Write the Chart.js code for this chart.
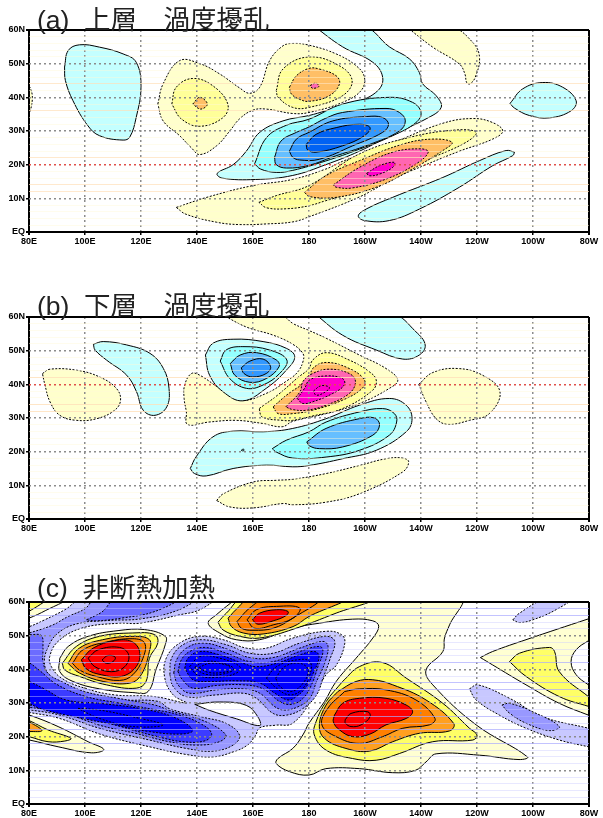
<!DOCTYPE html>
<html lang="ja">
<head>
<meta charset="utf-8">
<script src="https://cdn.jsdelivr.net/npm/chart.js@4"></script>
<style>
body{margin:0;background:#fff;width:603px;height:818px;position:relative;overflow:hidden}
canvas{position:absolute;left:0}
.title{position:absolute;left:37px;font:26.5px/26px "Liberation Sans","Noto Sans CJK JP",sans-serif;color:#222;white-space:pre;z-index:2}
</style>
</head>
<body>
<div class="title" style="top:7px">(a)  上層　渦度擾乱</div>
<div class="title" style="top:293px">(b)  下層　渦度擾乱</div>
<div class="title" style="top:575px">(c)  非断熱加熱</div>
<canvas id="chartA" style="top:0"></canvas>
<canvas id="chartB" style="top:288px"></canvas>
<canvas id="chartC" style="top:578px"></canvas>
<script>
// AXES
const lonLabels=["80E","100E","120E","140E","160E","180","160W","140W","120W","100W","80W"];
const latLabels=["EQ","10N","20N","30N","40N","50N","60N"];
const strongStripesA=[44,36,22,14,12];
const strongStripesB=[42,34,32];
const strongStripesC=[58,56,42,36,34,26,22,18];

// PANEL A (lon,lat)
const aEdge=[[79,43.5],[80,43.5],[81.2,40],[80,35],[79,35]];
const aCyanLeft=[[92.7,49],[94,53.9],[98,55.6],[105.2,54.9],[113.6,52.9],[118.3,50.4],[120,43],[118.3,34.1],[116,28.2],[113.6,27.3],[105.2,28.6],[101,31.6],[95.7,39],[93,45]];
const aYellow1=[[126,38],[127.9,44],[133.8,50.9],[141,50],[148,47],[155.2,42.8],[158.8,41.2],[162.4,43],[166,51],[170.7,55.3],[174.2,56],[180,55.5],[189.7,52.9],[196.8,49.4],[199.8,46],[198.6,42],[192,38.5],[180,35.5],[174.2,35.2],[164.8,36.5],[160,36.2],[155.2,33.6],[151.7,30],[147,25.6],[141,23],[138,25],[133.8,28.6],[127.9,33]];
const aYellow2=[[131,38],[132.6,43],[138.5,45.6],[145.7,43.4],[151,38],[149.3,34],[141,31.4],[134.4,33.6]];
const aOrange1=[[138.5,38],[141,40],[143.7,38],[141.3,36.5]];
const aYellow3=[[168.3,42],[170.7,48.4],[180,52],[190.8,49.4],[195.4,45],[192,40.5],[180,37],[174.2,37],[169,40]];
const aOrange2=[[173,43],[175.5,46.4],[180,48.6],[183.7,48.4],[189.7,46.4],[190.9,44],[187.3,40.5],[180,38.8],[176.7,39.4],[173.7,41]];
const aPink1=[[180.4,43.5],[182.5,44.2],[183.5,43.2],[181.3,42.7]];
const aCyan1=[[182,61],[192,55],[202.8,50.4],[206.3,46],[204.6,42],[196.8,38.5],[186,36],[180,34.6],[170.7,33],[162.4,29.6],[157.6,24],[152.9,20],[147.2,17.4],[149,16],[160.9,15.6],[174.2,16.8],[186,20],[198,24],[209.9,29],[221.8,33.6],[227.2,37],[225.4,40.5],[220.6,44],[219.4,47.4],[215.9,51.4],[208.7,55],[199.8,61]];
const aCyan2=[[160.6,20.3],[164.8,28],[171.9,31.7],[180,33.5],[192,38],[208.7,40],[217,38.5],[220,35.5],[218.2,32.5],[209.9,28.6],[198,24.6],[186,21.1],[174.2,18.3],[168.3,17.7],[162.7,18.7]];
const aBlue1=[[167.7,22.2],[170,27],[175.5,29.6],[180,31.2],[186,33.8],[192,35.5],[207.5,36.7],[212.3,35.5],[214.4,33],[212.3,30],[201.6,26],[188.5,22.3],[180,19.8],[172,19],[168.3,20]];
const aBlue2=[[173,24],[175.5,27.6],[180,29.6],[188.5,33],[200.6,34.3],[206.3,34],[208.4,32],[206.3,29.6],[195.6,25.6],[183.7,21.6],[176.6,21.4],[174.2,22.2]];
const aBlue3=[[179,26],[182.5,29],[189.7,31],[198,32],[201.8,31],[199.8,28.6],[192,25.6],[182.5,23.7],[179.5,24.4]];
const aYellow4=[[132.6,7.3],[143.5,10.3],[160,13.8],[174,15.6],[186,18.7],[192,21],[209.9,26.5],[227.8,32.3],[238.5,33.7],[245.6,32.5],[249.2,30],[245.6,27.6],[233.7,24],[221.8,20],[209.9,15.7],[198,10.4],[180,4.5],[174.2,3],[164.8,2.4],[155.2,2.2],[147,2.9],[136,5.3]];
const aYellow5=[[162.1,8.8],[168.3,10.8],[180,13.8],[198,23.2],[215.9,28.1],[232.5,30.3],[239.7,29.6],[236,26.6],[221.8,21.2],[209.9,16.2],[198,12.2],[186,9.3],[180,7.8],[172,6.9],[164.8,7.2]];
const aOrange3=[[178.4,11.8],[186,16.7],[198,21.2],[213.5,26.1],[224.2,27.6],[231.1,26.6],[227.8,24.2],[215.9,18.2],[204,13.3],[189.7,10.3],[180.2,10.5]];
const aPink2=[[188.7,14],[198,19.2],[209.9,23.7],[220,24.7],[222.6,23.7],[218.2,20.2],[207.5,15.7],[195.6,13.1],[189.7,13.3]];
const aMagenta=[[200.6,17.4],[205.2,19.7],[210.5,20.7],[209.9,19.2],[205.2,17.2],[201.6,16.7]];
const aCyanLow=[[253.4,23.7],[250.4,24.2],[240.9,21.2],[227.8,16.2],[209.9,10.3],[200.4,6.8],[197.6,4.8],[199.8,3.4],[208.7,3.4],[219.4,6.8],[233.7,13.3],[245.6,19.7],[252.8,22.7]];
const aYellowTop=[[214.7,61],[224.2,54.9],[233.7,49.9],[235.7,46.9],[236.3,44.4],[237.5,44],[239.4,46],[240.9,51.9],[238.5,56.3],[230.7,61]];
const aCyanRight=[[251.8,38.2],[256.3,42.5],[263.5,44.4],[270.6,43],[275.4,39],[273.6,36],[265.9,33.9],[258.7,34.6],[253.4,36.8]];

// PANEL B
const bYellowLeft=[[84.8,43.2],[87.5,44.5],[97,44.2],[105.2,42.2],[111.2,38.8],[112.7,35.3],[110.6,32.3],[104.2,29.8],[97,29.3],[91,30.8],[87.5,34.8],[85.7,39.8]];
const bCyanLeft=[[103,51.9],[106.5,52.7],[114.9,51.7],[123.2,49.2],[128,44.7],[130,38.8],[129.2,33.3],[125,30.8],[120.8,32.3],[118.4,37.8],[114.9,42.7],[107.7,47.2],[103.6,50.2]];
const bYellow1=[[149.4,60.5],[170.1,60.5],[174.2,58.1],[180,56],[186.1,53.7],[198,48.7],[207.5,44.7],[211.7,41.3],[208.7,38.8],[198,34.3],[186.1,31.3],[174.2,29],[170.4,27.4],[163.3,28.4],[153.8,29.3],[144.3,28.8],[136.6,28.1],[136.2,31.8],[135.4,35.8],[135.6,39.8],[138,43.2],[141,42.7],[148.1,38.8],[155.8,35.3],[164.7,37.3],[172,41],[176,43.7],[178,47.2],[177.8,49.2],[174.2,51.9],[167.2,54.6],[157.7,57]];
const bCyan1=[[143,48.7],[145.7,52.2],[152.9,53.4],[163.6,52.7],[171.9,50.7],[174.9,48.2],[171.9,44.2],[164.7,38.8],[156.4,35.1],[149.3,37.8],[144.5,42.7]];
const bCyan2=[[148.3,46.9],[150.4,50.2],[156.4,51.2],[165.9,50.2],[172.1,47.2],[169.5,43.2],[163.6,39.8],[157.7,38.8],[151.7,41.7]];
const bBlue1=[[151.9,46.2],[155.4,48.7],[161.3,49.4],[168.4,47.2],[169.3,45.2],[164.7,41.7],[158.9,40.6],[153.5,42.7]];
const bBlue2=[[155.8,44.9],[158.9,46.9],[163.6,47.5],[166.3,45.2],[164.7,43.2],[159.9,42.2],[156.8,43.2]];
const bYellow2=[[162.2,32.8],[168.8,36.8],[176,42],[180,44.7],[181.3,47.2],[186.1,49.4],[194.4,47.2],[201.6,43.7],[204,41.3],[202.8,38.3],[192,32.8],[181.3,30.6],[174.2,29.3],[170.4,29.3],[163.3,30.3]];
const bOrange=[[167.2,33.3],[172,36.8],[180,41.7],[181.3,44.7],[186.1,46.5],[194.4,44.7],[199.8,41.3],[199,38.8],[192,35.3],[181.3,32.3],[174.2,31.3],[169,31.3]];
const bPink=[[171.7,33.3],[176.8,37.8],[177.8,40.8],[181.3,43.2],[187.2,44.5],[194.4,43.2],[196.6,40.8],[194.4,37.3],[186.1,33.8],[179,32.3],[174.2,32.5]];
const bMagenta=[[175.8,35.8],[178.4,38.8],[180.2,41.3],[186.1,42.5],[192,41.7],[192.6,39.8],[188.5,37.3],[181.3,34.8],[177.8,34.3]];
const bCenter=[[181.6,38],[184.3,39.6],[187.3,39],[184.9,37.3],[182.5,36.8]];
const bCyan3=[[137.6,15],[139.7,18.5],[145.7,24.4],[152.9,26.1],[163.6,25.9],[174.2,26.9],[186.1,29.8],[198,33.8],[208.7,35.8],[214.7,33.8],[216.8,29.8],[214.7,25.9],[204,20.4],[192,17.9],[180,15.9],[174.2,15.5],[164.8,16],[152.9,15],[143.3,12.8],[139.1,13.5]];
const bCyan4=[[166.9,20.9],[171.9,23.4],[180,25.9],[186.1,28.8],[198,31.8],[206.3,32.8],[210.5,31.3],[211.3,28.8],[208.7,24.9],[198,20.4],[186.1,18.4],[174.2,18.1],[168.3,19.9]];
const bBlue3=[[179.2,22.9],[186.1,26.9],[198,29.8],[203.4,30],[205.2,27.9],[202.8,24.9],[192,21.4],[183.7,20.9],[180.2,21.7]];
const bDot=[[155.8,20.4],[156.6,20.8],[156.6,20.2]];
const bYellowLow=[[147,5.5],[149.4,7.5],[160.1,11],[168.3,11.5],[174.2,11.8],[186.1,13.5],[198,15.9],[207.5,17.9],[213.5,18.1],[215.6,17],[213.5,14],[198,7.5],[186.1,5],[174.2,4.2],[170.8,4.6],[160.1,3.3],[151.7,3.6]];
const bCyanTop=[[182,61],[209.6,61],[218.2,55.6],[221.5,51.7],[219.4,48.7],[213.5,47.5],[204,50.2],[192,54.6]];
const bYellowRight=[[219.2,40],[224.2,43.5],[233.1,44.7],[242,42.7],[248.2,37.8],[244.4,31.3],[237.3,29.3],[229.6,28.1],[225.4,29.8],[221.8,34.8]];

// PANEL C - cold
const cCold1=[[79,52.7],[80.3,52.75],[85.6,54.7],[92.8,57.7],[99.3,61],[145.7,61],[141,57.7],[133.8,56.2],[119.5,53.7],[111.8,53.7],[98.7,52.2],[90.4,48.3],[87.4,43.8],[88,40.8],[91.6,37.4],[99.9,34.4],[110.6,32.4],[124.9,31.9],[136.3,30],[131.5,32.4],[128.5,37.4],[129,43.3],[133.8,47.8],[141,49.8],[149.3,48.8],[157.6,46.3],[164.8,46.3],[174.3,49.3],[186.2,51.3],[191.6,50.3],[192.8,47.8],[189.8,41.3],[186.1,38.4],[181.3,31.4],[174.2,24],[168,23.4],[162.3,22.6],[161,20.5],[158,17.5],[153,15.5],[145.7,14],[136.2,14.7],[123,17],[105.2,20.8],[91,25.4],[80,27.2],[79,27.2]];
const cIsland=[[139.2,29.6],[148.1,30.3],[157.6,29.3],[161.8,25.8],[162.4,23.3],[154.1,25.3],[144.5,27.8]];
const cCold2=[[79,50.5],[88,53],[94,55.7],[100,58],[104,61],[139,61],[133,57.5],[120,55],[108,54.5],[97,53.5],[90,50.5],[86.5,46],[85.5,42],[87,38.5],[91,36],[100,33],[112,31],[126,30.5],[130.2,28.3],[142,25.8],[150.5,23.9],[155.2,20.4],[152.9,17.5],[145.7,15.7],[136.2,16.5],[123,19],[105.2,22.5],[91,26.4],[80,28],[79,28]];
const cCold2b=[[130.3,38.4],[130.9,43.3],[135,47.3],[141.6,48.8],[150.5,47.3],[158.8,44.8],[167.2,44.8],[176.7,47.8],[186.2,49.8],[189.2,48.3],[187.4,42.8],[185,37.4],[182.7,32.4],[177.9,28.4],[172,26.4],[167.2,26.9],[161.2,31.4],[156.5,32.9],[146.9,32.4],[136.2,31.9],[131.5,34.9]];
const cCold3=[[79,50.3],[80.2,50.3],[84.4,50],[85,46.3],[85,42.3],[86.8,38.8],[91.6,36.4],[99.9,33.4],[111.8,31.4],[124.9,29.4],[130.2,27.8],[143,24.5],[150.3,20.5],[148,18.5],[140,17.5],[130,18.5],[118,21],[105.2,23.4],[91,27.5],[80,28.7],[79,28.7]];
const cCold3b=[[131.7,38.9],[132.7,42.8],[136.2,46.3],[142.2,47.8],[150.5,46.1],[158.8,43.5],[167.2,43.5],[176.7,46.3],[185,48.3],[186.8,46.8],[185.6,41.8],[182.7,36.4],[180.3,31.4],[176.1,28.9],[171.3,27.9],[167.8,28.9],[162.4,32.9],[156.5,34.2],[146.9,33.9],[137.4,32.9],[133.2,35.4]];
const cCold3c=[[100.5,54.7],[106,57],[111.2,61],[132.9,61],[125,57.2],[113,55.2],[104,54.4]];
const cCold4=[[79,42],[80,42],[84,39.5],[90,35.5],[100,32],[112,30],[125,28],[133,26.6],[141,24],[145.2,21],[143,18.8],[135,18.5],[125,20.2],[112,23.2],[100,26.4],[90,28.3],[80,29.4],[79,29.4]];
const cCold4b=[[133.2,39.3],[134.4,42.8],[137.4,45.3],[142.8,46.5],[150.5,44.8],[158.8,42.3],[167.2,42.3],[176.7,45.3],[183.8,46.8],[185,45.3],[183.2,40.8],[180.9,35.4],[177.9,31.4],[173.7,29.6],[169.6,30.4],[163.6,34.2],[156.5,35.4],[146.9,35.2],[138.6,34.4],[134.8,36.9]];
const cCold5=[[79,36.4],[80,36.4],[85,34.4],[93.3,30.9],[105.2,29.9],[119.5,28.4],[131.4,25.9],[138.5,22],[135,20.8],[123,21.5],[107.7,24],[93.3,26.4],[83.8,28.4],[80,29.9],[79,29.9]];
const cCold5b=[[135.6,40.3],[136.8,43.3],[141,45.3],[148.1,44.3],[156.5,41.8],[161.2,40.8],[168.4,41.8],[176.7,44.3],[182,45.3],[183.6,43.8],[181.5,38.8],[179.1,34.9],[175.5,31.9],[172.5,30.9],[167.8,32.9],[162.4,35.9],[154,36.6],[144.6,36.4],[138.6,36.9]];
const cBandCore=[[97.5,28.4],[105.2,27.9],[117.1,25.9],[127.9,23.5],[117.1,23],[105.2,25.4]];
const cCoreL1=[[137.4,40.8],[141,43.8],[148.1,43.3],[155.3,40.8],[154.1,38.9],[146.9,37.6],[140.4,38.2]];
const cCoreL2=[[139.2,40.6],[142.8,42.3],[149.3,41.8],[153.1,40.1],[149.3,38.6],[142.8,38.6]];
const cCoreL3=[[140.6,40.5],[144.6,41.8],[150.5,41.3],[152.1,40],[149.3,39.1],[144,39.1]];
const cCoreR1=[[164.8,37.4],[168.4,40.8],[175.5,42.8],[180.3,42.3],[180.3,38.3],[177.3,33.9],[173.1,32.4],[168.4,34.4]];
const cCoreR2=[[168.1,37.4],[171.3,40.8],[176.7,41.8],[179.7,39.8],[177.9,35.9],[173.7,33.4],[169.6,34.9]];
const cColdRight1=[[237.3,34.2],[240.3,35.4],[251.6,31.4],[263.5,25.9],[279.8,22.5],[281,22.2],[281,16.8],[279.8,17],[269.4,19],[257.5,22.5],[248,26.4],[239.7,30.9]];
const cColdRight2=[[248.9,29.4],[251.6,29.9],[259.9,27.4],[269.4,23],[265.9,21.8],[257.5,24],[251.6,27]];
const cColdTop=[[252.8,54.7],[255.2,56.7],[264.7,61],[273.6,61],[268.2,57.7],[259.9,54.7],[255.2,53.9]];

// PANEL C - warm
const cWarmA1=[[91,43.3],[94,46.8],[101.1,49.8],[111.8,51.5],[121.3,51.8],[128.7,49.8],[128.7,47.4],[125.5,40.3],[122.5,33.4],[117.1,33.1],[105.2,34.2],[95.7,36.4],[91,39.3]];
const cWarmA2=[[91.9,41.8],[96.9,46.8],[105.2,49.8],[117.1,50.8],[124.9,50.3],[126,47.8],[123,43.3],[121.8,36.4],[118.3,34.4],[107.6,35.4],[98,37.9],[92.8,39.8]];
const cWarmA3=[[93.9,41.8],[98,46.3],[106.3,48.8],[117.1,49.8],[123,48.8],[123,45.3],[120.1,38.4],[116,35.9],[106.5,36.4],[98,38.9]];
const cWarmA4=[[95.5,41.8],[99.3,45.8],[107.6,48.1],[117.1,49.1],[121.3,47.8],[120.7,43.3],[117.1,38.4],[112.4,36.7],[104,37.9],[98,39.8]];
const cWarmA5=[[98.7,42.8],[102.9,46.3],[110.6,48.5],[116.6,48.3],[119.5,45.3],[118.3,40.8],[113,37.9],[105.8,38.4],[100.5,40.1]];
const cWarmA6=[[101.1,43.3],[104.7,45.8],[112.4,46.5],[115.6,44.3],[114.2,40.8],[109.4,39.3],[103.5,40.8]];
const cWarmA7=[[106.1,42.8],[108.2,44.1],[110.8,43.6],[110,42.3],[107.6,41.8]];
const cCornerLight=[[79,55.2],[80,55.2],[86,57.5],[93.3,61],[79,61]];
const cCornerYellow=[[79,57.2],[80,57.2],[86.2,61],[79,61]];
const cLowLight=[[79,26.4],[80.2,26.4],[90.4,23],[101.1,18.5],[106.7,16.2],[102.3,15.2],[90.4,17],[80.2,19],[79,19]];
const cLowYellow=[[79,24.8],[80,24.8],[86.8,22],[95,19.5],[92.8,18.7],[86.8,18.5],[80,20],[79,20]];
const cLowOrange=[[79,24.4],[80,24.4],[84.6,21.8],[80,21.5],[79,21.5]];
const cBigLight=[[154,61],[234,61],[230.2,53.2],[228.4,49.3],[227.8,45.3],[221.8,39.8],[224.2,35.4],[239.7,23.5],[258,14],[255,13.2],[240.9,14.5],[225.4,14.9],[221.8,12.5],[218,10],[209.9,9.3],[198,10.5],[186,10.5],[180,8.6],[173.1,9.6],[168.3,12],[168.9,13.5],[174.2,16.5],[177.8,20.5],[180,24],[185.5,30.4],[189.7,36.4],[196.8,43.3],[202.8,49.3],[204.9,52.8],[202.8,54.4],[195.6,54.9],[183.7,53.7],[174.2,52.2],[162.4,48.8],[154,48.8],[148.1,50.8],[144,53.7],[146.9,56.2]];
const cTopYellow=[[147.5,54],[150.5,56.7],[156.5,61],[202.8,61],[189.7,56.7],[174.3,51.9],[162.4,49.3],[155.3,49.8],[149.3,51.7]];
const cTopOrange1=[[151.1,55.2],[154.7,58.4],[158.8,61],[192.7,61],[180,55.7],[174.3,52.7],[163.6,50.5],[156.5,50.8],[152.3,52.7]];
const cTopOrange2=[[154.3,54.2],[158.8,58.2],[164.8,61],[183.7,61],[174.2,55.2],[167.2,52.2],[160,51.6],[155.9,52.2]];
const cTopRing=[[157.9,54.7],[161.2,57.7],[168.4,58.7],[176.7,58.2],[174.3,55.2],[167.2,53.2],[160.6,52.2]];
const cTopRed=[[159.8,54.7],[162.4,56.7],[168.4,57.7],[172.5,57.2],[171.9,56],[167.2,54.4],[161.8,53.4]];
const cWarmB2=[[192,36.4],[198,40.8],[206.3,42],[214.7,37.4],[227.8,29.9],[237.3,22.5],[240,20.5],[238.5,19],[224.2,18.5],[212.3,15],[204,13],[195.6,13.5],[186.1,16],[181.9,20.5],[182.5,24.4],[186.1,30.4]];
const cWarmB3=[[190.3,33.4],[196.8,36.4],[202.8,36.9],[209.9,35.4],[221.8,30.9],[231.7,23.9],[230.2,21.7],[219.4,21],[209.9,18.5],[201.6,15.7],[193.2,16.5],[185.5,19.5],[183.7,23.5],[186.1,29.4]];
const cWarmB4=[[192.7,33.4],[198,34.2],[207.5,33.9],[218.2,30.9],[225,25.4],[223,23.5],[213.5,22.5],[206.3,20],[198,18],[189.7,20],[184.6,23.5],[186.7,28.4]];
const cWarmB5=[[189.1,26.4],[192,29.9],[198,31.4],[207.5,31.4],[214.7,29.4],[217,27.4],[214.7,25.4],[207.5,23.5],[201.6,20.7],[195.6,20],[190.9,22],[188.7,24.4]];
const cWarmB6=[[192.9,25],[195,26.9],[201,27.4],[201.8,25.9],[198.6,23.5],[195,23],[193,24]];
const cRightLight=[[241.2,43.5],[245.6,45.3],[257.5,48.8],[279.8,55],[281,55.3],[281,26.1],[279.8,26.4],[269.4,29.9],[257.5,35.4],[245.6,41.3]];
const cRightYellow=[[251.6,42.3],[255.2,44.8],[265.9,46.5],[267.7,45.3],[269.4,39.3],[279.8,31.9],[281,31.5],[281,28.8],[279.8,29],[269.4,31.9],[257.5,37.9]];
const cRightHole=[[281,48.9],[279.8,48.5],[275.4,45.8],[273.6,42.3],[275.4,38.4],[279.8,35.4],[281,35]];

// COLORS
const col={
  cyan1:"#c4ffff",cyan2:"#94ffff",blue1:"#66bfff",blue2:"#3298ff",blue3:"#0062f4",
  yel1:"#ffffcc",yel2:"#ffff99",org1:"#ffbf66",pink:"#ff66b2",mag:"#ff00cc",
  c1:"#c8c8ff",c2:"#9898ff",c3:"#6c6cff",c4:"#3c3cff",c5:"#0000ff",
  w1:"#ffffd2",w2:"#ffff66",w3:"#ffa020",w4:"#ff7f00",w5:"#ff0000"
};
const DASH=[2,1.5];
const GRID="#8c8c8c";

function shape(pts,color,dash){
  return {data:[...pts,pts[0]],showLine:true,pointRadius:0,tension:0.4,fill:"shape",
    backgroundColor:color,borderColor:"#000",borderWidth:1,borderDash:dash||[]};
}
function ring(pts,dash){
  return {data:[...pts,pts[0]],showLine:true,pointRadius:0,tension:0.4,fill:false,
    borderColor:"#000",borderWidth:1,borderDash:dash||[]};
}
function warm(pts,color){return shape(pts,color);}
function cold(pts,color){return shape(pts,color,DASH);}

const shapesA=[
  shape(aEdge,col.yel1,DASH),shape(aCyanLeft,col.cyan1),
  shape(aYellow1,col.yel1,DASH),shape(aYellow2,col.yel2,DASH),shape(aOrange1,col.org1,DASH),
  shape(aYellow3,col.yel2,DASH),shape(aOrange2,col.org1,DASH),shape(aPink1,col.pink,DASH),
  shape(aCyan1,col.cyan1),shape(aCyan2,col.cyan2),shape(aBlue1,col.blue1),shape(aBlue2,col.blue2),shape(aBlue3,col.blue3),
  shape(aYellow4,col.yel1,DASH),shape(aYellow5,col.yel2,DASH),shape(aOrange3,col.org1,DASH),shape(aPink2,col.pink,DASH),shape(aMagenta,col.mag,DASH),
  shape(aCyanLow,col.cyan1),shape(aYellowTop,col.yel1,DASH),shape(aCyanRight,col.cyan1)
];
const shapesB=[
  shape(bYellowLeft,col.yel1,DASH),shape(bCyanLeft,col.cyan1),shape(bYellow1,col.yel1,DASH),
  shape(bCyan1,col.cyan1),shape(bCyan2,col.cyan2),shape(bBlue1,col.blue1),shape(bBlue2,col.blue2),
  shape(bYellow2,col.yel2,DASH),shape(bOrange,col.org1,DASH),shape(bPink,col.pink,DASH),shape(bMagenta,col.mag,DASH),ring(bCenter,DASH),
  shape(bCyan3,col.cyan1),shape(bCyan4,col.cyan2),shape(bBlue3,col.blue1),ring(bDot),
  shape(bYellowLow,col.yel1,DASH),shape(bCyanTop,col.cyan1),shape(bYellowRight,col.yel1,DASH)
];
const shapesC=[
  cold(cCold1,col.c1),warm(cIsland,"#fff"),cold(cCold2,col.c2),cold(cCold2b,col.c2),cold(cCold3c,col.c3),
  cold(cCold3,col.c3),cold(cCold3b,col.c3),cold(cCold4,col.c4),cold(cCold4b,col.c4),cold(cCold5,col.c5),cold(cCold5b,col.c5),
  ring(cBandCore,DASH),ring(cCoreL1,DASH),ring(cCoreL2,DASH),ring(cCoreL3,DASH),ring(cCoreR1,DASH),ring(cCoreR2,DASH),
  cold(cColdRight1,col.c1),cold(cColdRight2,col.c2),cold(cColdTop,col.c1),
  warm(cBigLight,col.w1),warm(cTopYellow,col.w2),warm(cTopOrange1,col.w3),warm(cTopOrange2,col.w4),ring(cTopRing),warm(cTopRed,col.w5),
  warm(cWarmB2,col.w2),warm(cWarmB3,col.w3),warm(cWarmB4,col.w4),warm(cWarmB5,col.w5),ring(cWarmB6),
  warm(cWarmA1,col.w1),warm(cWarmA2,col.w2),warm(cWarmA3,col.w3),warm(cWarmA4,col.w4),warm(cWarmA5,col.w5),ring(cWarmA6),ring(cWarmA7),
  warm(cCornerLight,col.w1),warm(cCornerYellow,col.w2),
  warm(cLowLight,col.w1),warm(cLowYellow,col.w2),warm(cLowOrange,col.w3),
  warm(cRightLight,col.w1),warm(cRightYellow,col.w2),warm(cRightHole,"#fff")
];

function lineColor(v,redLat,strong,faint,faintStrong){
  if(v===0||v===60) return "#000";
  if(v%10===0) return v===redLat?"#e0504a":GRID;
  return strong.includes(v)?faintStrong:faint;
}

function drawPanel(id,height,shapes,redLat,strong,faint,faintStrong){
  const c=document.getElementById(id);
  c.width=603;c.height=height;c.style.width="603px";c.style.height=height+"px";
  new Chart(c,{
    type:"scatter",
    data:{datasets:shapes.slice().reverse()},
    options:{
      responsive:false,animation:false,
      layout:{padding:{top:height-221,right:14,left:0,bottom:0}},
      plugins:{legend:{display:false},tooltip:{enabled:false}},
      scales:{
        x:{type:"linear",min:80,max:280,afterFit:s=>{s.height=19;},
          border:{display:false,dash:x=>(x.tick&&(x.tick.value===80||x.tick.value===280))?[]:[2,3]},
          grid:{z:1,tickLength:3,
            color:x=>(x.tick.value===80||x.tick.value===280)?"#000":GRID,
            lineWidth:x=>(x.tick.value===80||x.tick.value===280)?2:1.5,
            tickColor:"#000"},
          ticks:{stepSize:20,autoSkip:false,maxRotation:0,padding:1,color:"#000",
            font:{family:"Liberation Sans",size:9,weight:"bold"},
            callback:(v,i)=>lonLabels[i]}},
        y:{type:"linear",min:0,max:60,afterFit:s=>{s.width=29;},
          border:{display:false,dash:x=>(x.tick&&x.tick.value%10===0&&x.tick.value%60!==0)?[2,3]:[]},
          grid:{z:1,tickLength:3,
            color:x=>lineColor(x.tick.value,redLat,strong,faint,faintStrong),
            lineWidth:x=>(x.tick.value%60===0)?2:(x.tick.value%10===0?1.5:1),
            tickColor:x=>x.tick.value%10===0?"#000":"transparent"},
          ticks:{stepSize:2,autoSkip:false,padding:1,color:"#000",
            font:{family:"Liberation Sans",size:9,weight:"bold"},
            callback:v=>v%10===0?latLabels[v/10]:""}}
      }
    }
  });
}

drawPanel("chartA",251,shapesA,20,strongStripesA,"rgba(255,248,215,0.45)","rgba(255,224,185,0.7)");
drawPanel("chartB",250,shapesB,40,strongStripesB,"rgba(255,248,215,0.45)","rgba(255,224,185,0.8)");
drawPanel("chartC",245,shapesC,null,strongStripesC,"rgba(205,205,255,0.45)","rgba(170,170,255,0.7)");
</script>
</body>
</html>
